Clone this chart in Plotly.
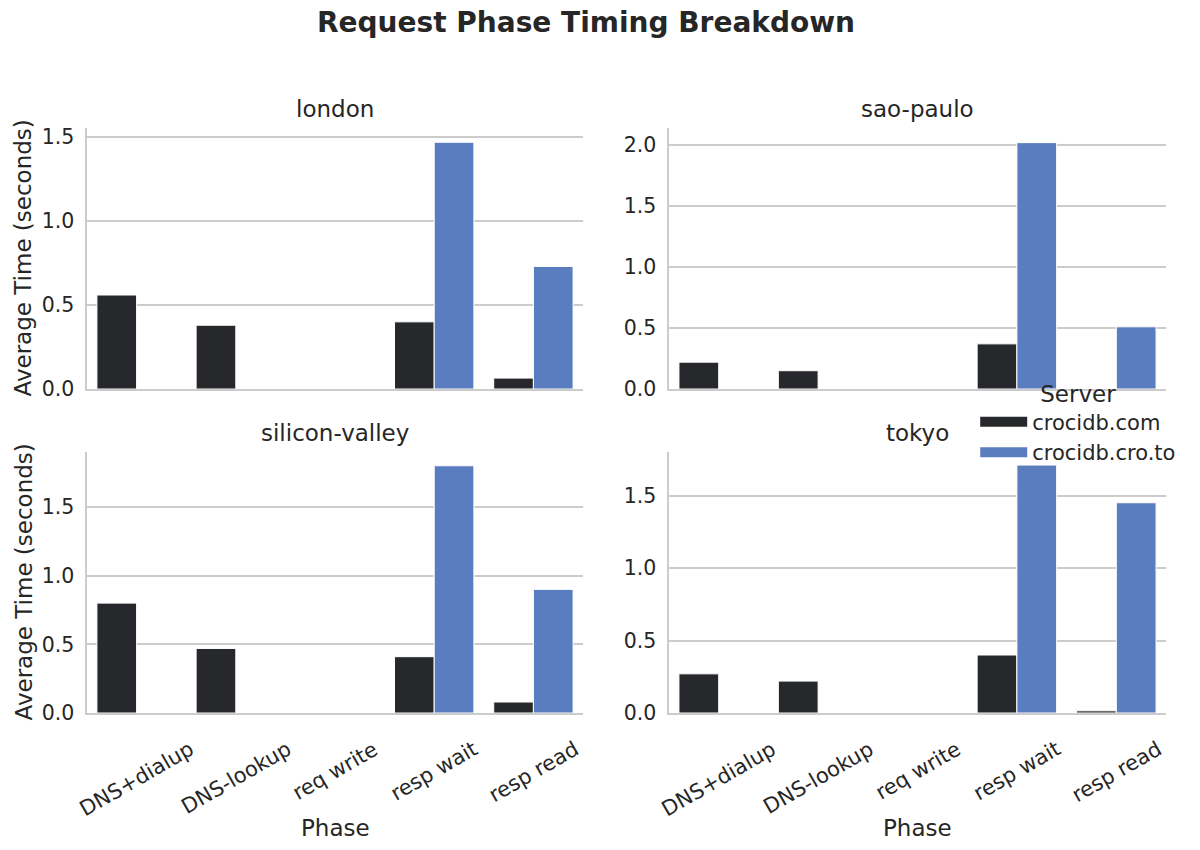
import plotly.graph_objects as go
from plotly.subplots import make_subplots

phases = ["DNS+dialup", "DNS-lookup", "req write", "resp wait", "resp read"]
servers = ["crocidb.com", "crocidb.cro.to"]
regions = ["london", "sao-paulo", "silicon-valley", "tokyo"]

# average seconds per phase
london_com = [0.56, 0.38, 0.0, 0.40, 0.065]
london_cro = [0.0, 0.0, 0.0, 1.47, 0.73]
saopaulo_com = [0.22, 0.15, 0.0, 0.37, 0.0]
saopaulo_cro = [0.0, 0.0, 0.0, 2.02, 0.51]
siliconvalley_com = [0.80, 0.47, 0.0, 0.41, 0.08]
siliconvalley_cro = [0.0, 0.0, 0.0, 1.80, 0.90]
tokyo_com = [0.27, 0.22, 0.0, 0.40, 0.015]
tokyo_cro = [0.0, 0.0, 0.0, 1.71, 1.45]

values = {
    "london": (london_com, london_cro),
    "sao-paulo": (saopaulo_com, saopaulo_cro),
    "silicon-valley": (siliconvalley_com, siliconvalley_cro),
    "tokyo": (tokyo_com, tokyo_cro),
}
y_max = {"london": 1.555, "sao-paulo": 2.14, "silicon-valley": 1.90, "tokyo": 1.80}

colors = ["#26282b", "#5a7dc0"]
txt = "#262626"
grid = "#cccccc"
font = "DejaVu Sans"
W, H = 1200, 850

fig = make_subplots(rows=2, cols=2, shared_xaxes=True)

for i, reg in enumerate(regions):
    row, col = i // 2 + 1, i % 2 + 1
    for s, srv in enumerate(servers):
        fig.add_trace(go.Bar(
            x=phases, y=values[reg][s], name=srv,
            marker_color=colors[s],
            marker_line_color="white", marker_line_width=1,
            showlegend=False,
        ), row=row, col=col)
    fig.update_yaxes(range=[0, y_max[reg]], dtick=0.5, tickformat=".1f",
                     row=row, col=col)

# legend entries drawn as wide patches (seaborn style)
for s, srv in enumerate(servers):
    fig.add_trace(go.Scatter(
        x=[None], y=[None], mode="lines", name=srv,
        line=dict(color=colors[s], width=13),
    ), row=2, col=2)

# pixel boxes of the panels (page is offset 8px by the body margin)
xdom = [[79 / W, 575 / W], [661 / W, 1158 / W]]
ydom = [[(H - 381) / H, (H - 120) / H], [(H - 705) / H, (H - 444) / H]]

for i in range(4):
    row, col = i // 2, i % 2
    n = "" if i == 0 else str(i + 1)
    fig.layout["xaxis" + n].domain = xdom[col]
    fig.layout["yaxis" + n].domain = ydom[row]

fig.update_xaxes(
    range=[-0.5, 4.5], showgrid=False, showline=True, linecolor=grid,
    linewidth=2, ticks="", showticklabels=False, automargin=False,
)
fig.update_yaxes(
    showgrid=True, gridcolor=grid, gridwidth=1.5, showline=True,
    linecolor=grid, linewidth=2, ticks="", zeroline=False, automargin=False,
    ticksuffix="\u00a0",
    tickfont=dict(size=20.5, color=txt, family=font),
)

ann_font = dict(size=23, color=txt, family=font)

# rotated category labels, centred under each group like matplotlib
for ax in ["x3", "x4"]:
    for p in phases:
        fig.add_annotation(
            text=p, xref=ax, yref="paper", x=p, y=(H - 726) / H,
            xanchor="center", yanchor="top", textangle=-30, showarrow=False,
            font=dict(size=21, color=txt, family=font),
        )

for col in range(2):
    fig.add_annotation(
        text="Phase", xref="paper", yref="paper",
        x=sum(xdom[col]) / 2, y=(H - 820) / H,
        xanchor="center", yanchor="middle", showarrow=False, font=ann_font,
    )

for row in range(2):
    fig.add_annotation(
        text="Average Time (seconds)", xref="paper", yref="paper",
        x=0, y=sum(ydom[row]) / 2, textangle=-90,
        xanchor="left", yanchor="middle", showarrow=False, font=ann_font,
    )

for i, reg in enumerate(regions):
    row, col = i // 2, i % 2
    fig.add_annotation(
        text=reg, xref="paper", yref="paper",
        x=sum(xdom[col]) / 2, y=ydom[row][1] + 0.005,
        xanchor="center", yanchor="bottom", showarrow=False, font=ann_font,
    )

fig.update_layout(
    width=W, height=H,
    margin=dict(l=0, r=0, t=0, b=0),
    paper_bgcolor="white", plot_bgcolor="white",
    barmode="group", bargap=0.2, bargroupgap=0,
    font=dict(family=font, color=txt),
    title=dict(text="<b>Request Phase Timing Breakdown</b>", x=578 / W, xanchor="center",
               y=1, yanchor="top", pad=dict(t=4),
               font=dict(size=28, color=txt, family=font)),
    legend=dict(
        title=dict(text="Server", side="top center", font=ann_font),
        x=0.806, y=0.572, xanchor="left", yanchor="top",
        bgcolor="rgba(0,0,0,0)", font=dict(size=21, color=txt, family=font),
        itemwidth=47, tracegroupgap=4,
    ),
)

fig.write_html("out.html")
